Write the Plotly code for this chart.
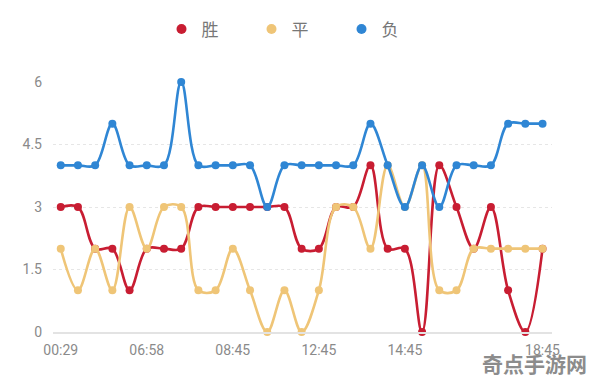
import plotly.graph_objects as go

x_index = list(range(29))
win = [3,3,2,2,1,2,2,2,3,3,3,3,3,3,2,2,3,3,4,2,2,0,4,3,2,3,1,0,2]
draw = [2,1,2,1,3,2,3,3,1,1,2,1,0,1,0,1,3,3,2,4,3,4,1,1,2,2,2,2,2]
lose = [4,4,4,5,4,4,4,6,4,4,4,4,3,4,4,4,4,4,5,4,3,4,3,4,4,4,5,5,5]
tick_pos = [0,5,10,15,20,28]
tick_text = ["00:29","06:58","08:45","12:45","14:45","18:45"]
y_ticks = [0,1.5,3,4.5,6]
y_text = ["0","1.5","3","4.5","6"]
names = ["胜","平","负"]
colors = ["#c81d32","#efc577","#2f86d4"]

FONT = "Roboto, 'Noto Sans CJK SC', sans-serif"
fig = go.Figure()
for name, vals, col in zip(names, [win, draw, lose], colors):
    fig.add_trace(go.Scatter(
        x=x_index, y=vals, mode="lines+markers", name=name,
        line=dict(color=col, width=2.6, shape="spline", smoothing=1.0),
        marker=dict(color=col, size=8),
        cliponaxis=False, showlegend=False))
for name, col in zip(names, colors):
    fig.add_trace(go.Scatter(x=[None], y=[None], mode="markers", name=name,
                             marker=dict(color=col, size=10)))

fig.update_layout(
    width=596, height=383,
    margin=dict(l=53, r=44, t=82, b=51, autoexpand=False),
    paper_bgcolor="white", plot_bgcolor="white",
    font=dict(family=FONT, color="#888888"),
    legend=dict(orientation="h", x=0.488, xanchor="center", y=1.21, yanchor="middle",
                font=dict(size=17, color="#777777"), entrywidth=45,
                itemwidth=30),
    xaxis=dict(range=[-0.45, 28.55], tickvals=tick_pos, ticktext=tick_text,
               showgrid=False, zeroline=False, showline=True, linecolor="#e3e3e3",
               linewidth=1.5, tickfont=dict(size=14, color="#8a8a8a"),
               ticks="", ticklabelstandoff=4),
    yaxis=dict(range=[0, 6], tickvals=y_ticks, ticktext=y_text,
               showgrid=True, gridcolor="#e6e6e6", griddash="dot", gridwidth=1,
               zeroline=False, showline=False,
               tickfont=dict(size=14, color="#8a8a8a"), ticks="",
               ticklabelstandoff=10),
)
fig.add_annotation(text="<b>奇点手游网</b>", xref="paper", yref="paper",
                   x=1.074, y=-0.125, xanchor="right", yanchor="middle",
                   showarrow=False,
                   font=dict(size=21, color="#8c8c8c", family="'Noto Sans CJK SC', sans-serif"))
fig.write_html("out.html", config={"displayModeBar": False},
               post_script="document.body.style.margin='0px';document.body.style.overflow='hidden';")
